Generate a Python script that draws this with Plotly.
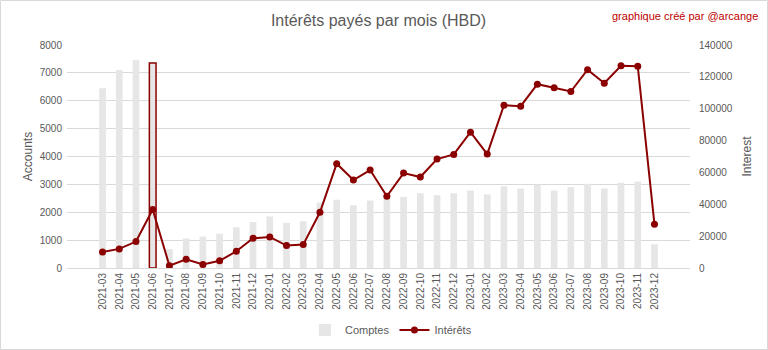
import plotly.graph_objects as go

months = ["2021-03","2021-04","2021-05","2021-06","2021-07","2021-08","2021-09","2021-10","2021-11","2021-12",
          "2022-01","2022-02","2022-03","2022-04","2022-05","2022-06","2022-07","2022-08","2022-09","2022-10","2022-11","2022-12",
          "2023-01","2023-02","2023-03","2023-04","2023-05","2023-06","2023-07","2023-08","2023-09","2023-10","2023-11","2023-12"]
comptes = [6450, 7100, 7450, 7350, 680, 1060, 1130, 1230, 1460, 1650,
           1850, 1620, 1680, 2350, 2450, 2250, 2420, 2500, 2550, 2680, 2610, 2680,
           2780, 2640, 2930, 2850, 2990, 2780, 2900, 3020, 2850, 3060, 3100, 850]
interets = [10000, 12000, 16600, 36700, 1400, 5500, 2200, 4500, 10500, 18700,
            19500, 14100, 14700, 35000, 65500, 55200, 61500, 45000, 59600, 57100, 68400, 71300,
            85300, 71500, 102200, 101600, 115400, 113100, 110800, 124500, 116000, 126900, 126700, 27400]
highlight = "2021-06"

FONT = "Liberation Sans"
GRAY = "#595959"
RED = "#8b0000"

line_w = [1.5 if m == highlight else 0 for m in months]

fig = go.Figure()
fig.add_trace(go.Bar(x=months, y=comptes, name="Comptes", width=0.4,
                     marker=dict(color="#e6e6e6", line=dict(color=RED, width=line_w)),
                     yaxis="y"))
fig.add_trace(go.Scatter(x=months, y=interets, name="Intérêts", mode="lines+markers",
                         line=dict(color=RED, width=2), marker=dict(color=RED, size=7),
                         yaxis="y2"))

L, R, T, B = 67, 78, 45, 82
PW, PH = 768 - L - R, 350 - T - B

fig.update_layout(
    width=768, height=350,
    margin=dict(l=L, r=R, t=T, b=B, autoexpand=False),
    paper_bgcolor="white", plot_bgcolor="white",
    font=dict(family=FONT, color=GRAY, size=11),
    title=dict(text="Intérêts payés par mois (HBD)", x=0.5, xref="paper", xanchor="center",
               y=1 - 20 / 350, yref="container", yanchor="middle",
               font=dict(size=16, color=GRAY, family=FONT)),
    showlegend=True,
    legend=dict(orientation="h", x=0.52, xanchor="center", y=(PH - (330 - T)) / PH, yanchor="middle",
                font=dict(size=11, color=GRAY), bgcolor="rgba(0,0,0,0)"),
    xaxis=dict(type="category", tickangle=-90, tickfont=dict(size=10, color=GRAY), automargin=False,
               showgrid=False, showline=True, linecolor="#d9d9d9", ticks="", zeroline=False),
    yaxis=dict(range=[0, 8000], dtick=1000, showgrid=True, gridcolor="#d9d9d9", zeroline=False,
               tickfont=dict(size=10, color=GRAY), ticks="", automargin=False, tickformat="d",
               ticklabelstandoff=4,
               title=dict(text="Accounts", font=dict(size=12, color=GRAY), standoff=4)),
    yaxis2=dict(range=[0, 140000], dtick=20000, overlaying="y", side="right", showgrid=False,
                zeroline=False, tickfont=dict(size=10, color=GRAY), ticks="", automargin=False,
                tickformat="d", ticklabelstandoff=8,
                title=dict(text="Interest", font=dict(size=12, color=GRAY), standoff=10)),
    annotations=[dict(text="graphique créé par @arcange", xref="paper", yref="paper",
                      x=(760 - L) / PW, y=(PH + T - 16) / PH, xanchor="right", yanchor="middle",
                      showarrow=False, font=dict(size=11, color="#c00000", family=FONT))],
    shapes=[dict(type="rect", xref="paper", yref="paper",
                 x0=(0.5 - L) / PW, x1=(767.5 - L) / PW,
                 y0=(PH + T - 349.5) / PH, y1=(PH + T - 0.5) / PH,
                 line=dict(color="#d9d9d9", width=1), layer="below")],
)

fig.write_html("out.html")
